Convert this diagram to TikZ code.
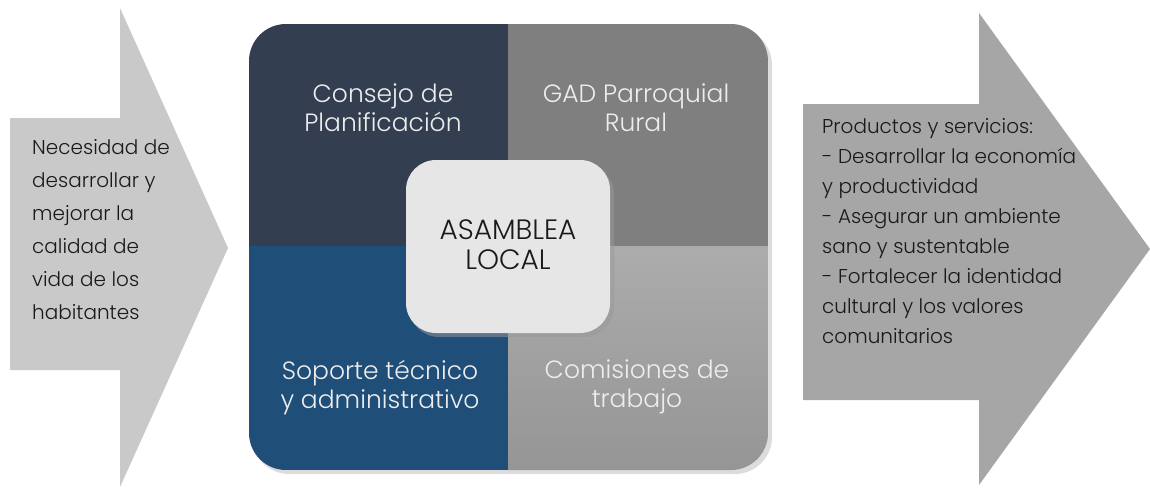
\documentclass[tikz,border=0pt]{standalone}
\usepackage{fontspec}
\setmainfont{Poppins}[UprightFont=* Light]
\usetikzlibrary{shadows}
\definecolor{qtl}{HTML}{333F50}
\definecolor{qtr}{HTML}{7F7F7F}
\definecolor{qbl}{HTML}{1F4E79}
\definecolor{qbrtop}{HTML}{ACACAC}
\definecolor{qbrbot}{HTML}{959595}
\definecolor{larrow}{HTML}{C9C9C9}
\definecolor{rarrow}{HTML}{A6A6A6}
\definecolor{centerbox}{HTML}{E7E6E6}
\definecolor{qtext}{HTML}{EDEDED}
\definecolor{dtext}{HTML}{1A1A1A}
\tikzset{
  qlabel/.style={text=qtext, align=center, font=\fontsize{25}{29}\selectfont, inner sep=0pt},
  sidelabel/.style={text=dtext, align=left, anchor=north west, inner sep=0pt},
}
\begin{document}
\begin{tikzpicture}[x=1pt,y=-1pt]
\useasboundingbox (0,0) rectangle (1150,488);
% left arrow
\fill[larrow] (10,118) -- (120,118) -- (120,8) -- (228,248) -- (120,487) -- (120,370) -- (10,370) -- cycle;
% right arrow
\fill[rarrow] (803,104) -- (979,104) -- (979,13) -- (1150,249) -- (979,485) -- (979,400) -- (803,400) -- cycle;
% big square with shadow
\fill[black!30, opacity=0.45, rounded corners=37pt] (252,28) rectangle (772,474);
\begin{scope}
  \clip[rounded corners=37pt] (249,24) rectangle (768,470);
  \fill[qtl] (249,24) rectangle (508,246);
  \fill[qtr] (508,24) rectangle (768,246);
  \fill[qbl] (249,246) rectangle (508,470);
  \shade[top color=qbrtop, bottom color=qbrbot] (508,246) rectangle (768,470);
\end{scope}
\node[qlabel] (tl) at (383,108) {Consejo de\\Planificación};
\node[qlabel] (tr) at (636,108) {GAD Parroquial\\Rural};
\node[qlabel] (bl) at (380,388) {Soporte técnico\\y administrativo};
\node[qlabel] (br) at (637,387) {Comisiones de\\trabajo};
% center box
\fill[black!40, opacity=0.5, rounded corners=30pt] (409,164) rectangle (614,337);
\fill[centerbox, rounded corners=30pt] (406,160) rectangle (610,333);
\node[text=dtext, align=center, font=\fontsize{28}{30}\selectfont, inner sep=0pt] (center) at (508,245) {ASAMBLEA\\LOCAL};
% side texts
\node[sidelabel, font=\fontsize{20}{33}\selectfont] (lt) at (32,139) {Necesidad de\\desarrollar y\\mejorar la\\calidad de\\vida de los\\habitantes};
\node[sidelabel, font=\fontsize{20}{30}\selectfont] (rt) at (822,118) {Productos y servicios:\\- Desarrollar la economía\\y productividad\\- Asegurar un ambiente\\sano y sustentable\\- Fortalecer la identidad\\cultural y los valores\\comunitarios};
\end{tikzpicture}
\end{document}
